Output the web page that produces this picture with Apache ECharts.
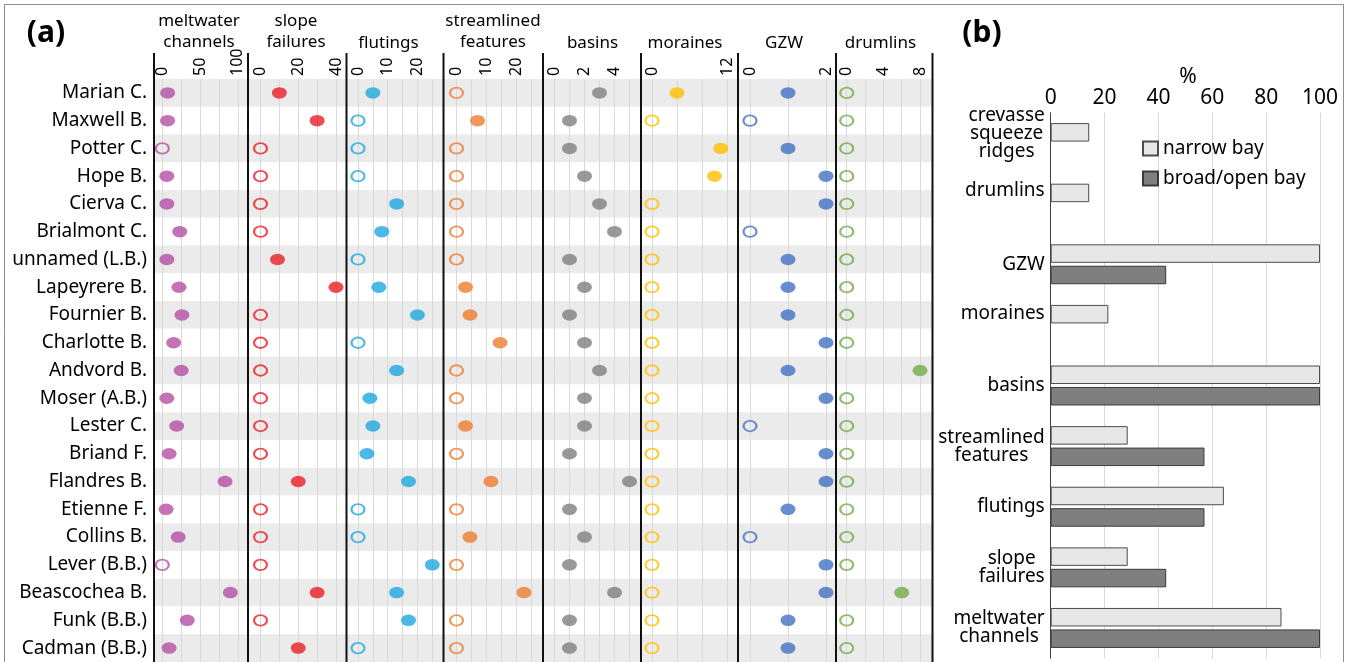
<!DOCTYPE html>
<html>
<head>
<meta charset="utf-8">
<script src="https://cdn.jsdelivr.net/npm/echarts@6/dist/echarts.min.js"></script>
<style>
html,body{margin:0;padding:0;background:#fff;}
#chart{width:1349px;height:662px;}
</style>
</head>
<body>
<div id="chart"></div>
<script>
// ---------- DATA: panel (a) ----------
const rows = ['Marian C.','Maxwell B.','Potter C.','Hope B.','Cierva C.','Brialmont C.','unnamed (L.B.)','Lapeyrere B.','Fournier B.','Charlotte B.','Andvord B.','Moser (A.B.)','Lester C.','Briand F.','Flandres B.','Etienne F.','Collins B.','Lever (B.B.)','Beascochea B.','Funk (B.B.)','Cadman (B.B.)'];
const meltwater   = [7,7,0,6,6,23,6,22,26,15,25,6,19,9,83,5,21,0,90,33,9];
const slope       = [10,30,0,0,0,0,9,40,0,0,0,0,0,0,20,0,0,0,30,0,20];
const flutings    = [5,0,0,0,13,8,0,7,20,0,13,4,5,3,17,0,0,25,13,17,0];
const streamlined = [0,7,0,0,0,0,0,3,4.5,14.5,0,0,3,0,11.5,0,4.5,0,22.5,0,0];
const basins      = [3,1,1,2,3,4,1,2,1,2,3,2,2,1,5,1,2,1,4,1,1];
const moraines    = [4,0,11,10,0,0,0,0,0,0,0,0,0,0,0,0,0,0,0,0,0];
const gzw         = [1,0,1,2,2,0,1,1,1,2,1,2,0,2,2,1,0,2,2,1,1];
const drumlins    = [0,0,0,0,0,0,0,0,0,0,8,0,0,0,0,0,0,0,6,0,0];

const meltwaterTicks = [0,50,100];
const slopeTicks = [0,20,40];
const flutingTicks = [0,10,20];
const streamTicks = [0,10,20];
const basinTicks = [0,2,4];
const moraineTicks = [0,12];
const gzwTicks = [0,2];
const drumlinTicks = [0,4,8];

// ---------- DATA: panel (b) ----------
const bayCategories = ['crevasse\nsqueeze\nridges','drumlins','GZW','moraines','basins','streamlined\nfeatures','flutings','slope\nfailures','meltwater\nchannels'];
const narrowBay = [14.3,14.3,100,21.4,100,28.6,64.3,28.6,85.7];
const broadBay  = [null,null,42.9,null,100,57.1,57.1,42.9,100];
const pctTicks = [0,20,40,60,80,100];

// ---------- LAYOUT / STYLE ----------
const FONT = 'Noto Sans';
const panels = [
  {title:'meltwater\nchannels', values:meltwater, ticks:meltwaterTicks, color:'#b44fa2', max:100, step:25, x0:162.3, x1:237.9, hx:199},
  {title:'slope\nfailures', values:slope, ticks:slopeTicks, color:'#e81e25', max:40, step:10, x0:260.5, x1:336, hx:296},
  {title:'flutings', values:flutings, ticks:flutingTicks, color:'#1da7e0', max:25, step:5, x0:358, x1:432.3, hx:388.5},
  {title:'streamlined\nfeatures', values:streamlined, ticks:streamTicks, color:'#ed7d31', max:25, step:5, x0:456.5, x1:531.5, hx:493},
  {title:'basins', values:basins, ticks:basinTicks, color:'#7f7f7f', max:5, step:1, x0:554.5, x1:629.5, hx:592.5},
  {title:'moraines', values:moraines, ticks:moraineTicks, color:'#ffc000', max:12, step:4, x0:652, x1:727, hx:685},
  {title:'GZW', values:gzw, ticks:gzwTicks, color:'#4472c4', max:2, step:1, x0:750, x1:826, hx:784},
  {title:'drumlins', values:drumlins, ticks:drumlinTicks, color:'#70ad47', max:8, step:2, x0:846.7, x1:920, hx:880.5}
];
const PLOT_TOP = 79;
const separators = [154, 248, 346.5, 443.5, 543, 641, 738, 836, 932.5];
const labelShift = {'crevasse\nsqueeze\nridges':19, 'drumlins':27, 'moraines':23};

const grids = [{left:154, right:1349-932.5, top:PLOT_TOP, bottom:0}];
const xAxes = [{gridIndex:0, type:'value', show:false, min:0, max:1}];
const yAxes = [{
  gridIndex:0, type:'category', data:rows, inverse:true,
  axisLine:{show:false}, axisTick:{show:false},
  splitLine:{show:false},
  splitArea:{show:true, areaStyle:{color:['#ebebeb','#ffffff']}},
  axisLabel:{fontSize:19, color:'#000', margin:7, fontFamily:FONT}
}];
const series = [];
const graphics = [];

panels.forEach((p, i) => {
  const gi = i + 1;
  grids.push({left:p.x0, width:p.x1 - p.x0, top:PLOT_TOP, bottom:0});
  xAxes.push({
    gridIndex:gi, type:'value', position:'top', min:0, max:p.max, interval:p.step,
    axisLine:{show:false}, axisTick:{show:false},
    splitLine:{show:true, lineStyle:{color:'#d9d9d9', width:1}},
    axisLabel:{rotate:-90, margin:3, fontSize:16, color:'#000', fontFamily:FONT,
      formatter: v => p.ticks.includes(v) ? String(v) : ''}
  });
  yAxes.push({gridIndex:gi, type:'category', data:rows, inverse:true, show:false});
  series.push({
    type:'scatter', xAxisIndex:gi, yAxisIndex:gi, clip:false, z:5,
    data: p.values.map((v, r) => v > 0
      ? {value:[v, rows[r]], symbolSize:[15,11.5], itemStyle:{color:p.color}}
      : {value:[v, rows[r]], symbolSize:[13,10.5], itemStyle:{color:'rgba(0,0,0,0)', borderColor:p.color, borderWidth:2}}),
    symbol:'circle'
  });
  graphics.push({
    type:'text', silent:true,
    style:{text:p.title, x:p.hx, y:p.title.indexOf('\n') >= 0 ? 32 : 43,
      font:'17px "' + FONT + '"', fill:'#000', lineHeight:21,
      align:'center', verticalAlign:'middle', textAlign:'center', textVerticalAlign:'middle'}
  });
});

separators.forEach(x => {
  graphics.push({type:'line', silent:true, z:10, shape:{x1:x, y1:53, x2:x, y2:662}, style:{stroke:'#111', lineWidth:2}});
});
graphics.push({type:'rect', silent:true, shape:{x:4.5, y:4.5, width:1339, height:700}, style:{fill:'none', stroke:'#8c8c8c', lineWidth:1}});
[['(a)',46,33],['(b)',982,33]].forEach(t => graphics.push({
  type:'text', silent:true,
  style:{text:t[0], x:t[1], y:t[2], font:'bold 30px "' + FONT + '"', fill:'#000',
    align:'center', verticalAlign:'middle', textAlign:'center', textVerticalAlign:'middle'}
}));
graphics.push({type:'text', silent:true,
  style:{text:'%', x:1188, y:77, font:'21px "' + FONT + '"', fill:'#000',
    align:'center', verticalAlign:'middle', textAlign:'center', textVerticalAlign:'middle'}});

// panel (b)
const gb = grids.length;
grids.push({left:1050.7, right:29, top:112.75, bottom:3.75});
xAxes.push({
  gridIndex:gb, type:'value', position:'top', min:0, max:100, interval:20,
  axisLine:{show:false}, axisTick:{show:false},
  splitLine:{show:true, lineStyle:{color:'#d9d9d9', width:1}},
  axisLabel:{fontSize:21, color:'#000', margin:4, fontFamily:FONT,
    formatter: v => pctTicks.includes(v) ? String(v) : ''}
});
yAxes.push({
  gridIndex:gb, type:'category', inverse:true,
  data: bayCategories.map(c => labelShift[c] ? {value:c, textStyle:{padding:[0,0,labelShift[c],0]}} : c),
  axisLine:{show:true, lineStyle:{color:'#404040', width:1}}, axisTick:{show:false},
  axisLabel:{margin:6, color:'#000', fontSize:19, fontFamily:FONT,
    formatter: v => v.split('\n').map(s => '{c|' + s + '}').join('\n'),
    rich:{c:{align:'center', fontSize:19, lineHeight:18, color:'#000', fontFamily:FONT}}}
});
series.push({
  name:'narrow bay', type:'bar', xAxisIndex:gb, yAxisIndex:gb, data:narrowBay,
  barWidth:18.5, barGap:'16%',
  itemStyle:{color:'#e7e7e7', borderColor:'#4d4d4d', borderWidth:1}
});
series.push({
  name:'broad/open bay', type:'bar', xAxisIndex:gb, yAxisIndex:gb, data:broadBay,
  barWidth:18.5, barGap:'16%',
  itemStyle:{color:'#7f7f7f', borderColor:'#3a3a3a', borderWidth:1}
});

const chart = echarts.init(document.getElementById('chart'), null, {renderer:'canvas'});
chart.setOption({
  animation:false,
  textStyle:{fontFamily:FONT},
  grid:grids, xAxis:xAxes, yAxis:yAxes, series:series,
  legend:{
    data:['narrow bay','broad/open bay'], orient:'vertical', left:1137, top:134,
    itemWidth:15, itemHeight:14, itemGap:11, icon:'rect',
    textStyle:{fontSize:19, color:'#000', lineHeight:19, fontFamily:FONT}
  },
  graphic:{elements:graphics}
});
</script>
</body>
</html>
